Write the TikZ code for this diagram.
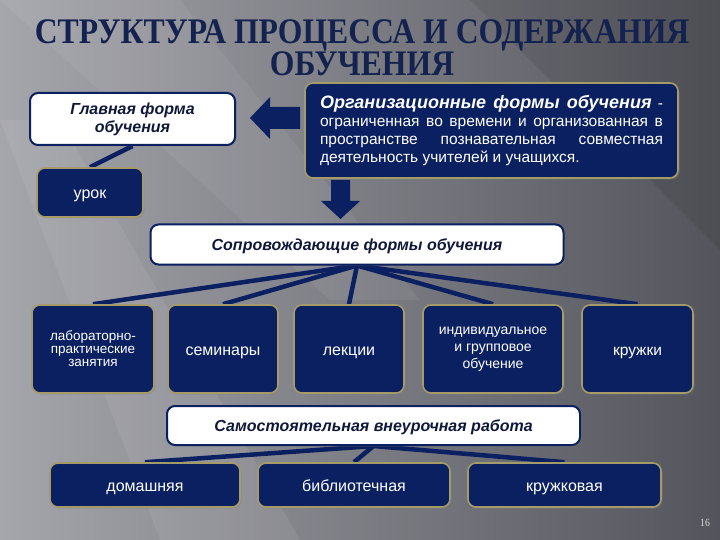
\documentclass[tikz,border=0pt]{standalone}
\usepackage{fontspec}
\setmainfont{Liberation Sans}
\newfontfamily\titlefont[FakeStretch=0.88]{Liberation Serif}
\usetikzlibrary{shadows}
\definecolor{navy}{RGB}{10,32,96}
\definecolor{navytext}{RGB}{16,24,58}
\definecolor{khaki}{RGB}{165,155,105}
\definecolor{titlecol}{RGB}{20,34,80}
\definecolor{bgl}{RGB}{165,165,172}
\definecolor{bgd}{RGB}{84,84,92}
\pgfdeclarelayer{bg}
\pgfdeclarelayer{lines}
\pgfsetlayers{bg,lines,main}
\newcommand{\fs}[2]{\fontsize{#1}{#2}\selectfont}
\tikzset{
  navybox/.style={draw=khaki, line width=1.6pt, fill=navy, rounded corners=8pt,
    text=white, align=center, inner sep=2pt,
    drop shadow={opacity=0.35, shadow xshift=1.5pt, shadow yshift=-1.5pt}},
  whitebox/.style={draw=navy, line width=2pt, fill=white, rounded corners=8pt,
    text=navytext, align=center, inner sep=2pt,
    drop shadow={opacity=0.35, shadow xshift=1.5pt, shadow yshift=-1.5pt}},
  oneline/.style={text height=13pt, text depth=1pt},
  conn/.style={draw=navy, line width=4.5pt},
  bigarrow/.style={fill=navy}
}
\begin{document}
\begin{tikzpicture}[x=1pt,y=-1pt]
\useasboundingbox (0,0) rectangle (720,540);
\begin{pgfonlayer}{bg}
  \shade[shading angle=75, left color=bgl, right color=bgd] (0,0) rectangle (720,540);
  \fill[white, opacity=0.07] (0,120) -- (60,120) -- (300,540) -- (160,540) -- cycle;
  \fill[white, opacity=0.06] (0,0) -- (180,0) -- (420,300) -- (330,300) -- cycle;
  \fill[black, opacity=0.08] (470,0) -- (720,0) -- (720,250) -- cycle;
\end{pgfonlayer}

% title
\node[text=titlecol, font=\titlefont\bfseries\fs{36}{26}, align=center] (title)
  at (362,48) {СТРУКТУРА ПРОЦЕССА И СОДЕРЖАНИЯ\\ОБУЧЕНИЯ};

% top row
\node[whitebox, minimum width=205, minimum height=52, font=\bfseries\itshape\fs{16}{18}] (glav)
  at (132.5,119) {Главная форма\\обучения};
\node[navybox, oneline, minimum width=106, minimum height=49, font=\fs{16}{18}] (urok)
  at (90,192.5) {урок};
\node[navybox, minimum width=373, minimum height=95, text width=343, align=justify,
  font=\fs{15.5}{18}] (org) at (491.5,130.5)
  {{\bfseries\itshape\fs{18}{22}Организационные формы обучения} -\linebreak
   ограниченная во времени и организованная в\linebreak
   пространстве познавательная совместная\linebreak
   деятельность учителей и учащихся.};

% big arrows
\fill[bigarrow] (250,118) -- (270,97) -- (270,107) -- (300,107) -- (300,129) -- (270,129) -- (270,139) -- cycle;
\fill[bigarrow] (331,180) -- (350,180) -- (350,201) -- (360,201) -- (340.5,219) -- (321,201) -- (331,201) -- cycle;

% accompanying forms
\node[whitebox, oneline, minimum width=413, minimum height=40, font=\bfseries\itshape\fs{16}{18}] (sopr)
  at (357,244.5) {Сопровождающие формы обучения};
\node[navybox, minimum width=122, minimum height=88, font=\fs{13.5}{13}] (lab)
  at (93,349) {лабораторно-\\практические\\занятия};
\node[navybox, oneline, minimum width=110, minimum height=88, font=\fs{16}{18}] (sem)
  at (223,349) {семинары};
\node[navybox, oneline, minimum width=110, minimum height=88, font=\fs{16}{18}] (lek)
  at (349,349) {лекции};
\node[navybox, minimum width=140, minimum height=88, font=\fs{14}{17}] (ind)
  at (493,349) {индивидуальное\\и групповое\\обучение};
\node[navybox, oneline, minimum width=111, minimum height=88, font=\fs{15.5}{18}] (kru)
  at (637.5,349) {кружки};

% independent work
\node[whitebox, oneline, minimum width=413, minimum height=39, font=\bfseries\itshape\fs{16}{18}] (samo)
  at (373.5,425.5) {Самостоятельная внеурочная работа};
\node[navybox, oneline, minimum width=190, minimum height=44, font=\fs{16}{18}] (dom)
  at (145,485) {домашняя};
\node[navybox, oneline, minimum width=192, minimum height=44, font=\fs{16}{18}] (bib)
  at (354,485) {библиотечная};
\node[navybox, oneline, minimum width=193, minimum height=44, font=\fs{16}{18}] (krv)
  at (564.5,485) {кружковая};

\node[text=black!15, font=\titlefont\fs{11}{12}] (pg) at (705,523) {16};

\begin{pgfonlayer}{lines}
  \draw[conn] (glav.south) -- (urok.north);
  \foreach \t in {lab,sem,lek,ind,kru} \draw[conn] (sopr.south) -- (\t.north);
  \foreach \t in {dom,bib,krv} \draw[conn] (samo.south) -- (\t.north);
\end{pgfonlayer}
\end{tikzpicture}
\end{document}
